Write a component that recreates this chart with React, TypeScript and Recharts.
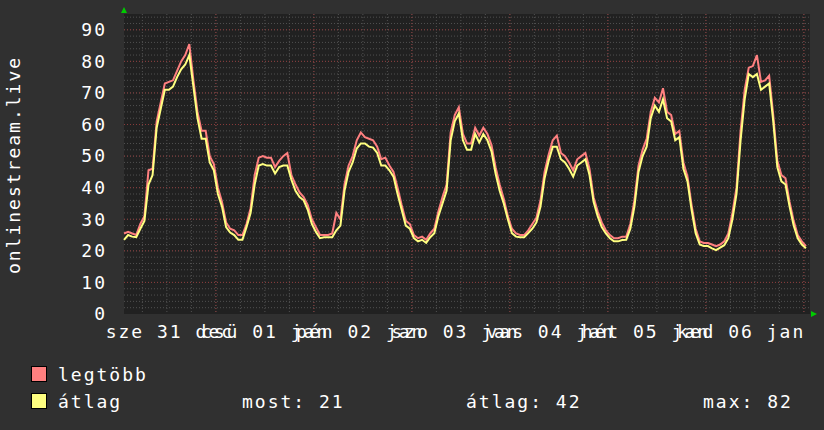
import { CartesianGrid, Line, LineChart, XAxis, YAxis } from "recharts";

// hourly samples, starting 01:30 on Dec 31
const avgValues = [
  23.5, 25, 24.5, 24.3, 27, 29.5, 41, 44, 59, 65, 71, 71, 72, 75, 77.5, 79, 82, 72, 62, 55.5,
  55.5, 48, 45.5, 38, 34, 27.5, 25.8, 25, 23.5, 23.5, 27.5, 32, 41, 47, 47.5, 47, 47, 44.5, 46.5, 47,
  47, 42.5, 39, 37, 36, 33, 28.5, 26, 24, 24.3, 24.3, 24.3, 26.5, 28, 39, 45, 48, 52.4, 54, 54,
  53, 52.7, 51, 47, 47, 45.5, 43.5, 38, 33, 28, 27, 24, 23, 23.5, 22.5, 24.3, 25.6, 31, 35, 39,
  55, 61, 63.5, 55, 52, 52, 57, 54.3, 57, 55, 51.5, 44.5, 39, 35, 30, 25.6, 24.5, 24.3, 24.3, 25.6,
  27, 29, 34, 43, 48.5, 53, 53, 49, 48, 46, 43.5, 47, 48, 49, 44, 35.5, 31, 27.5, 25.5, 24,
  23, 23, 23.4, 23.5, 27, 34, 45, 50, 53, 62, 66, 64, 68, 62, 61, 55, 56, 46, 42, 33,
  25.6, 22, 21.5, 21.5, 20.8, 20.2, 21, 21.8, 24, 30, 38, 55, 68, 76, 75, 76, 71, 72, 73, 61,
  46.5, 42, 41, 34, 28, 24, 22, 20.8,
];

const maxValues = [
  25.5, 26, 25.5, 25, 28.5, 31, 45.5, 46, 61, 67, 73, 73.5, 74, 77, 80, 82, 85.5, 74, 64, 58,
  58, 50, 47.5, 40, 35.5, 29, 27, 26.5, 25, 25, 28.5, 33.5, 44, 49.5, 50, 49.5, 49.5, 46.5, 48.5, 50,
  51, 44, 41, 38.5, 37, 34.5, 30, 27.5, 25, 25, 25, 25.5, 32, 30, 41, 47, 50, 55, 57.5, 56,
  55.5, 55, 53, 49, 49.5, 47, 45, 40, 34.5, 29.5, 28.5, 25, 24, 24.5, 23.5, 25.5, 27, 32.5, 37, 41,
  57.5, 63, 65.5, 57, 54, 54, 59, 56.5, 59, 57, 53.5, 46.5, 41, 36.5, 31, 27, 25.5, 25, 25, 26.5,
  28.5, 30.5, 36, 45, 50.5, 55, 56.5, 51, 50, 48, 45.5, 49, 50, 51, 46, 37, 32.5, 29, 26.5, 25,
  24, 24, 24.5, 24.5, 28.5, 36, 47, 52, 55.5, 64, 68.5, 67, 71.5, 64, 63, 57, 58, 48, 43.5, 34.5,
  27, 23, 22.5, 22.5, 22, 21.5, 22, 23, 25.5, 32, 40, 58, 71, 78, 78.5, 82, 73.5, 74, 75.5, 63,
  48.5, 44, 43, 35.5, 29.5, 25, 23, 21.5,
];

const dayLabels = [
  "sze 31 dec",
  "csü 01 jan",
  "pén 02 jan",
  "szo 03 jan",
  "vas 04 jan",
  "hét 05 jan",
  "ked 06 jan",
];
const noonHours = [10.5, 34.5, 58.5, 82.5, 106.5, 130.5, 154.5];
const midnightHours = [22.5, 46.5, 70.5, 94.5, 118.5, 142.5, 166.5];
const yTicks = [0, 10, 20, 30, 40, 50, 60, 70, 80, 90];

const legendStats = { most: 21, atlag: 42, max: 82 };

const data = avgValues.map((v, i) => ({ h: i, avg: v, max: maxValues[i] }));

const minorY = Array.from({ length: 47 }, (_, i) => (i + 1) * 2);
const minorX = Array.from({ length: 28 }, (_, i) => 4.5 + i * 6);

const FONT = "'DejaVu Sans Mono', monospace";

// eslint-disable-next-line @typescript-eslint/no-explicit-any
function DayTick({ x, y, index }: any) {
  // rrdtool squeezes the labels a little tighter than the day grid
  return (
    <text
      x={x + 3 - index * 2.8}
      y={y + 24}
      textAnchor="middle"
      fill="#ffffff"
      fontFamily={FONT}
      fontSize={18}
      letterSpacing={2}
    >
      {dayLabels[index]}
    </text>
  );
}

export default function App() {
  return (
    <div
      style={{
        position: "absolute",
        left: 0,
        top: 0,
        width: 824,
        height: 430,
        background: "#303030",
        overflow: "hidden",
      }}
    >
      <LineChart
        width={824}
        height={430}
        data={data}
        margin={{ top: 14, right: 14, bottom: 86, left: 64 }}
      >
        <CartesianGrid
          fill="#212121"
          stroke="#505050"
          strokeDasharray="1 2"
          horizontalValues={minorY}
          verticalValues={minorX}
        />
        <CartesianGrid
          stroke="#8a3a3a"
          strokeDasharray="1 2"
          horizontalValues={yTicks.slice(1)}
          verticalValues={midnightHours}
        />
        <XAxis
          dataKey="h"
          type="number"
          domain={[0, 168]}
          ticks={noonHours}
          interval={0}
          axisLine={false}
          tickLine={false}
          tickSize={0}
          tickMargin={0}
          height={30}
          tick={<DayTick />}
        />
        <YAxis
          type="number"
          domain={[0, 95]}
          ticks={yTicks}
          interval={0}
          axisLine={false}
          tickLine={false}
          tickSize={0}
          tickMargin={17}
          width={60}
          tick={{ fill: "#ffffff", fontFamily: FONT, fontSize: 18, letterSpacing: 2 }}
        />
        <Line
          type="linear"
          dataKey="max"
          stroke="#ff8080"
          strokeWidth={2}
          dot={false}
          isAnimationActive={false}
        />
        <Line
          type="linear"
          dataKey="avg"
          stroke="#ffff80"
          strokeWidth={2}
          dot={false}
          isAnimationActive={false}
        />
      </LineChart>

      {/* overlay: axis title, arrows, legend */}
      <svg
        width={824}
        height={430}
        style={{ position: "absolute", left: 0, top: 0, pointerEvents: "none" }}
        fontFamily={FONT}
        fontSize={18}
        letterSpacing={2}
        fill="#ffffff"
      >
        <text transform="translate(20,165) rotate(-90)" textAnchor="middle">
          onlinestream.live
        </text>
        <polygon points="121,13 127,13 124,7" fill="#00cc00" />
        <polygon points="811,311 811,317 817,314" fill="#00cc00" />

        <rect x={31.5} y={366.5} width={15} height={15} fill="#ff8080" stroke="#000" />
        <text x={58} y={381}>legtöbb</text>
        <rect x={31.5} y={393.5} width={15} height={15} fill="#ffff80" stroke="#000" />
        <text x={58} y={408}>átlag</text>
        <text x={242} y={408}>most: {legendStats.most}</text>
        <text x={466} y={408}>átlag: {legendStats.atlag}</text>
        <text x={703} y={408}>max: {legendStats.max}</text>
      </svg>
    </div>
  );
}
